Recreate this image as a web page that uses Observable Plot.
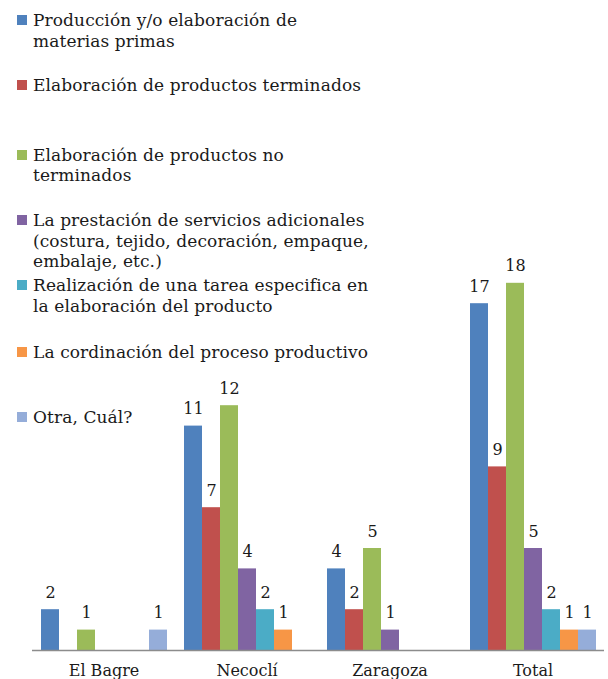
<!DOCTYPE html>
<html>
<head>
<meta charset="utf-8">
<script src="https://cdn.jsdelivr.net/npm/d3@7"></script>
<script src="https://cdn.jsdelivr.net/npm/@observablehq/plot@0.6"></script>
<style>
  html, body { margin: 0; padding: 0; background: #fff; }
  #wrap { position: relative; width: 608px; height: 679px; overflow: hidden; }
  #chart { position: absolute; left: 0; top: 0; }
  .leg { position: absolute; left: 0; font-family: "DejaVu Serif", serif; font-size: 17px; letter-spacing: 0.1px; line-height: 20.5px; color: #1a1a1a; white-space: nowrap; }
  .leg .sw { position: absolute; left: 17px; top: 5px; width: 10px; height: 10px; }
  .leg .tx { position: absolute; left: 33px; top: 0; }
</style>
</head>
<body>
<div id="wrap"><div id="chart"></div></div>
<script>
const categories = ["El Bagre", "Necoclí", "Zaragoza", "Total"];
const seriesNames = [
  "Producción y/o elaboración de materias primas",
  "Elaboración de productos terminados",
  "Elaboración de productos no terminados",
  "La prestación de servicios adicionales (costura, tejido, decoración, empaque, embalaje, etc.)",
  "Realización de una tarea especifica en la elaboración del producto",
  "La cordinación del proceso productivo",
  "Otra, Cuál?"
];
const legendLines = [
  ["Producción y/o elaboración de", "materias primas"],
  ["Elaboración de productos terminados"],
  ["Elaboración de productos no", "terminados"],
  ["La prestación de servicios adicionales", "(costura, tejido, decoración, empaque,", "embalaje, etc.)"],
  ["Realización de una tarea especifica en", "la elaboración del producto"],
  ["La cordinación del proceso productivo"],
  ["Otra, Cuál?"]
];
const colors = ["#4F81BD", "#C0504D", "#9BBB59", "#8064A2", "#4BACC6", "#F79646", "#95ADD9"];

const produccion   = [2, 11, 4, 17];
const terminados   = [0, 7, 2, 9];
const noTerminados = [1, 12, 5, 18];
const servicios    = [0, 4, 1, 5];
const tarea        = [0, 2, 0, 2];
const coordinacion = [0, 1, 0, 1];
const otra         = [1, 0, 0, 1];

const seriesValues = [produccion, terminados, noTerminados, servicios, tarea, coordinacion, otra];

const data = [];
categories.forEach((c, ci) => {
  seriesNames.forEach((s, si) => {
    data.push({cat: c, series: s, value: seriesValues[si][ci]});
  });
});

const font = "DejaVu Serif, serif";

const chart = Plot.plot({
  width: 608,
  height: 679,
  marginTop: 0,
  marginBottom: 29,
  marginLeft: 32,
  marginRight: 4,
  style: {fontFamily: font, background: "transparent"},
  fx: {domain: categories, padding: 0, label: null},
  x: {domain: seriesNames, paddingInner: 0, paddingOuter: 0.47, axis: null},
  y: {domain: [0, 650 / 20.4], axis: null},
  color: {domain: seriesNames, range: colors},
  marks: [
    Plot.barY(data.filter(d => d.value > 0), {fx: "cat", x: "series", y: "value", fill: "series"}),
    Plot.text(data.filter(d => d.value > 0), {
      fx: "cat", x: "series", y: "value", text: d => String(d.value),
      dy: -17, fontSize: 16, fill: "#1a1a1a"
    }),
    Plot.ruleY([0], {stroke: "#8c8c8c", strokeWidth: 1.5}),
    Plot.axisFx({anchor: "bottom", tickSize: 0, tickPadding: 14, label: null, fontSize: 16, fill: "#1a1a1a"})
  ]
});
document.getElementById("chart").appendChild(chart);

const firstCenters = [20.5, 85.5, 155, 220.5, 285.5, 352, 417];
const wrap = document.getElementById("wrap");
legendLines.forEach((lines, i) => {
  const div = document.createElement("div");
  div.className = "leg";
  div.style.top = (firstCenters[i] - 10.25) + "px";
  const sw = document.createElement("div");
  sw.className = "sw";
  sw.style.background = colors[i];
  div.appendChild(sw);
  const tx = document.createElement("div");
  tx.className = "tx";
  tx.innerHTML = lines.join("<br>");
  div.appendChild(tx);
  wrap.appendChild(div);
});
</script>
</body>
</html>
